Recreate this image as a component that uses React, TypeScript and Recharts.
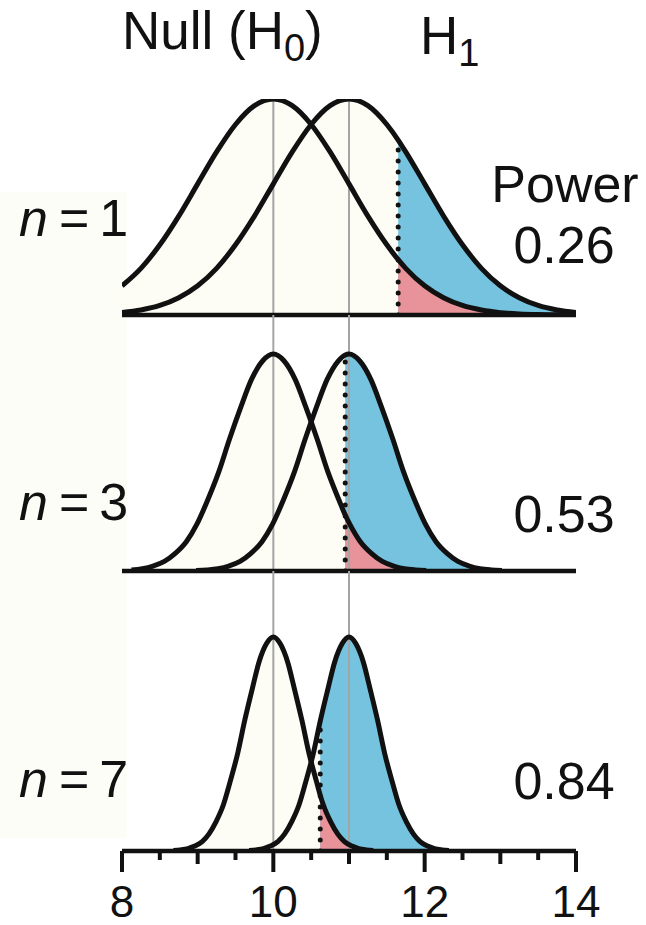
import React from 'react'
import { ComposedChart, Area, Line, XAxis, YAxis } from 'recharts'

const W = 646
const H = 925
const CREAM = '#fdfdf5'
const BLUE = '#76c3df'
const PINK = '#e8939a'
const INK = '#111111'
const GREY = '#a5a5a5'
const FONT = '"Liberation Sans", Arial, Helvetica, sans-serif'

const xTicks = [8, 8.5, 9, 9.5, 10, 10.5, 11, 11.5, 12, 12.5, 13, 13.5, 14]
const means = [10, 11]
const crits = [11.65, 10.95, 10.62]
const sampleSizes = ['1', '3', '7']
const powers = ['0.26', '0.53', '0.84']

// n = 1
const p1x = [8, 8.25, 8.5, 8.75, 9, 9.25, 9.5, 9.75, 10, 10.25, 10.5, 10.75, 11, 11.25, 11.5, 11.65, 11.75, 12, 12.25, 12.5, 12.75, 13, 13.25, 13.5, 13.75, 14]
const p1Null = [0.135, 0.216, 0.325, 0.458, 0.607, 0.755, 0.882, 0.969, 1, 0.969, 0.882, 0.755, 0.607, 0.458, 0.325, 0.256, 0.216, 0.135, 0.08, 0.044, 0.023, 0.011, 0.005, 0.002, 0.001, 0]
const p1Alt = [0.011, 0.023, 0.044, 0.08, 0.135, 0.216, 0.325, 0.458, 0.607, 0.755, 0.882, 0.969, 1, 0.969, 0.882, 0.81, 0.755, 0.607, 0.458, 0.325, 0.216, 0.135, 0.08, 0.044, 0.023, 0.011]

// n = 3
const p2NullX = [8.125, 8.27, 8.41, 8.56, 8.7, 8.85, 8.99, 9.13, 9.28, 9.42, 9.57, 9.71, 9.86, 10, 10.14, 10.29, 10.43, 10.58, 10.72, 10.87, 10.95, 11.01, 11.15, 11.3, 11.44, 11.59, 11.73, 11.88, 12.02]
const p2Null = [0.005, 0.011, 0.023, 0.044, 0.08, 0.135, 0.216, 0.325, 0.458, 0.607, 0.755, 0.882, 0.969, 1, 0.969, 0.882, 0.755, 0.607, 0.458, 0.325, 0.258, 0.216, 0.135, 0.08, 0.044, 0.023, 0.011, 0.005, 0.002]
const p2AltX = [8.98, 9.125, 9.27, 9.41, 9.56, 9.7, 9.85, 9.99, 10.13, 10.28, 10.42, 10.57, 10.71, 10.86, 10.95, 11, 11.14, 11.29, 11.43, 11.58, 11.72, 11.87, 12.01, 12.15, 12.3, 12.44, 12.59, 12.73, 12.88, 13.02]
const p2Alt = [0.002, 0.005, 0.011, 0.023, 0.044, 0.08, 0.135, 0.216, 0.325, 0.458, 0.607, 0.755, 0.882, 0.969, 0.996, 1, 0.969, 0.882, 0.755, 0.607, 0.458, 0.325, 0.216, 0.135, 0.08, 0.044, 0.023, 0.011, 0.005, 0.002]

// n = 7
const p3NullX = [8.68, 8.77, 8.87, 8.96, 9.06, 9.15, 9.24, 9.34, 9.43, 9.53, 9.62, 9.72, 9.81, 9.91, 10, 10.09, 10.19, 10.28, 10.38, 10.47, 10.57, 10.62, 10.66, 10.76, 10.85, 10.94, 11.04, 11.13, 11.23, 11.32]
const p3Null = [0.002, 0.005, 0.011, 0.023, 0.044, 0.08, 0.135, 0.216, 0.325, 0.458, 0.607, 0.755, 0.882, 0.969, 1, 0.969, 0.882, 0.755, 0.607, 0.458, 0.325, 0.26, 0.216, 0.135, 0.08, 0.044, 0.023, 0.011, 0.005, 0.002]
const p3AltX = [9.68, 9.77, 9.87, 9.96, 10.06, 10.15, 10.24, 10.34, 10.43, 10.53, 10.62, 10.72, 10.81, 10.91, 11, 11.09, 11.19, 11.28, 11.38, 11.47, 11.57, 11.66, 11.76, 11.85, 11.94, 12.04, 12.13, 12.23, 12.32]
const p3Alt = [0.002, 0.005, 0.011, 0.023, 0.044, 0.08, 0.135, 0.216, 0.325, 0.458, 0.607, 0.755, 0.882, 0.969, 1, 0.969, 0.882, 0.755, 0.607, 0.458, 0.325, 0.216, 0.135, 0.08, 0.044, 0.023, 0.011, 0.005, 0.002]

type Pt = { x: number; y: number }
const toPts = (xs: number[], ys: number[]): Pt[] => xs.map((x, i) => ({ x, y: ys[i] }))

const AxisTick = (props: any) => {
  const { x, y, payload } = props
  const v = payload.value
  const len = v % 2 === 0 ? 21 : v % 1 === 0 ? 13 : 9
  return (
    <g>
      <line x1={x} x2={x} y1={y} y2={y + len} stroke={INK} strokeWidth={4} />
      {v % 2 === 0 && (
        <text x={x} y={y + 66} textAnchor="middle" fontSize={44} fontFamily={FONT} fill={INK}>
          {v}
        </text>
      )}
    </g>
  )
}

interface PanelProps {
  nullPts: Pt[]
  altPts: Pt[]
  crit: number
  yTop: number
  greyTop: number
  top: number
  bottom: number
  axis: boolean
}

function Panel(props: PanelProps) {
  const { nullPts, altPts, crit, yTop, greyTop, top, bottom, axis } = props
  const pink = nullPts.filter((p) => p.x >= crit)
  const blue = altPts.filter((p) => p.x >= crit)
  const critTop = (altPts.find((p) => p.x === crit) as Pt).y
  const axisHeight = axis ? 74 : 2
  return (
    <div style={{ position: 'absolute', left: 0, top: 0 }}>
      <ComposedChart width={W} height={H} margin={{ top, bottom: bottom - axisHeight, left: 122, right: 70 }}>
        <XAxis
          type="number"
          dataKey="x"
          domain={[8, 14]}
          allowDataOverflow
          ticks={xTicks}
          interval={0}
          height={axisHeight}
          axisLine={{ stroke: INK, strokeWidth: 4.5 }}
          tickLine={false}
          tickSize={0}
          tickMargin={0}
          tick={axis ? <AxisTick /> : false}
        />
        <YAxis type="number" domain={[0, yTop]} hide allowDataOverflow />
        <Area data={nullPts} dataKey="y" type="monotone" fill={CREAM} fillOpacity={1} stroke="none" dot={false} activeDot={false} isAnimationActive={false} />
        <Area data={altPts} dataKey="y" type="monotone" fill={CREAM} fillOpacity={1} stroke="none" dot={false} activeDot={false} isAnimationActive={false} />
        <Area data={blue} dataKey="y" type="monotone" fill={BLUE} fillOpacity={1} stroke="none" dot={false} activeDot={false} isAnimationActive={false} />
        <Area data={pink} dataKey="y" type="monotone" fill={PINK} fillOpacity={1} stroke="none" dot={false} activeDot={false} isAnimationActive={false} />
        {means.map((m) => (
          <Line
            key={m}
            data={[{ x: m, y: 0 }, { x: m, y: greyTop }]}
            dataKey="y"
            type="linear"
            stroke={GREY}
            strokeWidth={2}
            dot={false}
            activeDot={false}
            isAnimationActive={false}
          />
        ))}
        <Line
          data={[{ x: crit, y: 0 }, { x: crit, y: critTop }]}
          dataKey="y"
          type="linear"
          stroke={INK}
          strokeWidth={5}
          strokeDasharray="0 11"
          strokeLinecap="round"
          dot={false}
          activeDot={false}
          isAnimationActive={false}
        />
        <Line data={nullPts} dataKey="y" type="monotone" stroke={INK} strokeWidth={5} strokeLinejoin="round" dot={false} activeDot={false} isAnimationActive={false} />
        <Line data={altPts} dataKey="y" type="monotone" stroke={INK} strokeWidth={5} strokeLinejoin="round" dot={false} activeDot={false} isAnimationActive={false} />
      </ComposedChart>
    </div>
  )
}

const nLabelY = [236, 520, 797]
const powerY = [263, 532, 799]

export default function App() {
  return (
    <div style={{ position: 'absolute', left: 0, top: 0, width: W, height: H, background: '#ffffff', overflow: 'hidden' }}>
      <div style={{ position: 'absolute', left: 0, top: 192, width: 127, height: 646, background: '#fdfdf8' }} />
      <Panel nullPts={toPts(p1x, p1Null)} altPts={toPts(p1x, p1Alt)} crit={crits[0]} yTop={1} greyTop={1} top={99} bottom={H - 315} axis={false} />
      <Panel nullPts={toPts(p2NullX, p2Null)} altPts={toPts(p2AltX, p2Alt)} crit={crits[1]} yTop={1.18} greyTop={1.18} top={315} bottom={H - 571} axis={false} />
      <Panel nullPts={toPts(p3NullX, p3Null)} altPts={toPts(p3AltX, p3Alt)} crit={crits[2]} yTop={1.308} greyTop={1.308} top={571} bottom={H - 851} axis={true} />
      <svg width={W} height={H} style={{ position: 'absolute', left: 0, top: 0, pointerEvents: 'none' }} fontFamily={FONT} fill={INK}>
        <text x={122} y={49} fontSize={53}>
          Null (H<tspan fontSize={38} dy={12}>0</tspan>
          <tspan dy={-12}>)</tspan>
        </text>
        <text x={420} y={54} fontSize={53}>
          H<tspan fontSize={38} dy={12}>1</tspan>
        </text>
        <text x={565} y={202} textAnchor="middle" fontSize={52}>Power</text>
        {powers.map((p, i) => (
          <text key={p} x={564} y={powerY[i]} textAnchor="middle" fontSize={52}>{p}</text>
        ))}
        {sampleSizes.map((n, i) => (
          <text key={n} x={19} y={nLabelY[i]} fontSize={52}>
            <tspan fontStyle="italic">n</tspan>
            <tspan dx={11}>=</tspan>
            <tspan dx={10}>{n}</tspan>
          </text>
        ))}
      </svg>
    </div>
  )
}
